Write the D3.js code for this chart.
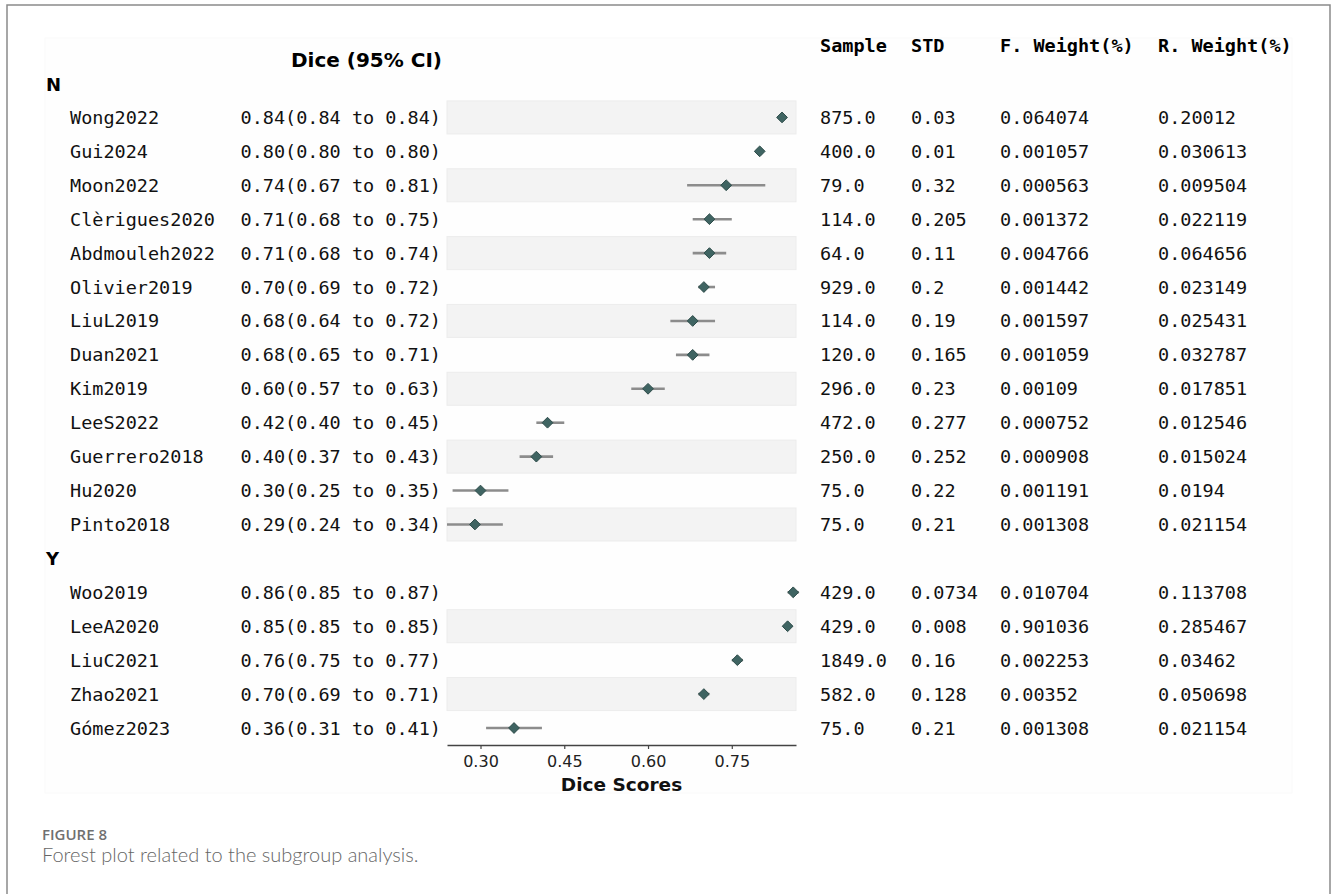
<!DOCTYPE html>
<html>
<head>
<meta charset="utf-8">
<script src="https://d3js.org/d3.v7.min.js"></script>
<style>
  body { margin: 0; background: #fff; }
  svg { display: block; }
</style>
</head>
<body>
<div id="container"></div>
<script>
// ---------------------------------------------------------------------
// Data
const groups = ["N", "Y"];
const studies = [
    "Wong2022", "Gui2024", "Moon2022", "Clèrigues2020", "Abdmouleh2022", "Olivier2019",
    "LiuL2019", "Duan2021", "Kim2019", "LeeS2022", "Guerrero2018", "Hu2020", "Pinto2018",
    "Woo2019", "LeeA2020", "LiuC2021", "Zhao2021", "Gómez2023"
];
const studyGroup = ["N", "N", "N", "N", "N", "N", "N", "N", "N", "N", "N", "N", "N",
    "Y", "Y", "Y", "Y", "Y"];
const dice   = [0.84, 0.80, 0.74, 0.71, 0.71, 0.70, 0.68, 0.68, 0.60, 0.42, 0.40, 0.30, 0.29,
    0.86, 0.85, 0.76, 0.70, 0.36];
const ciLow  = [0.84, 0.80, 0.67, 0.68, 0.68, 0.69, 0.64, 0.65, 0.57, 0.40, 0.37, 0.25, 0.24,
    0.85, 0.85, 0.75, 0.69, 0.31];
const ciHigh = [0.84, 0.80, 0.81, 0.75, 0.74, 0.72, 0.72, 0.71, 0.63, 0.45, 0.43, 0.35, 0.34,
    0.87, 0.85, 0.77, 0.71, 0.41];
const sampleSize = ["875.0", "400.0", "79.0", "114.0", "64.0", "929.0", "114.0", "120.0", "296.0",
    "472.0", "250.0", "75.0", "75.0", "429.0", "429.0", "1849.0", "582.0", "75.0"];
const stdValues = ["0.03", "0.01", "0.32", "0.205", "0.11", "0.2", "0.19", "0.165", "0.23",
    "0.277", "0.252", "0.22", "0.21", "0.0734", "0.008", "0.16", "0.128", "0.21"];
const fixedWeights = ["0.064074", "0.001057", "0.000563", "0.001372", "0.004766", "0.001442",
    "0.001597", "0.001059", "0.00109", "0.000752", "0.000908", "0.001191", "0.001308",
    "0.010704", "0.901036", "0.002253", "0.00352", "0.001308"];
const randomWeights = ["0.20012", "0.030613", "0.009504", "0.022119", "0.064656", "0.023149",
    "0.025431", "0.032787", "0.017851", "0.012546", "0.015024", "0.0194", "0.021154",
    "0.113708", "0.285467", "0.03462", "0.050698", "0.021154"];
const xTicks = [0.30, 0.45, 0.60, 0.75];

// ---------------------------------------------------------------------
// Layout
const width = 1331;
const height = 894;
const mono = "'DejaVu Sans Mono', 'Liberation Mono', monospace";
const sans = "'DejaVu Sans', Verdana, sans-serif";
const fontSize = 18.5;

// rows: group header followed by its studies
const rows = [];
groups.forEach(g => {
    rows.push({ type: "group", label: g });
    studies.forEach((s, i) => {
        if (studyGroup[i] === g) rows.push({ type: "study", i });
    });
});

const x = d3.scaleLinear()
    .domain([0.24, 0.865])
    .range([447, 796]);

const y = d3.scaleLinear()
    .domain([0, rows.length - 1])
    .range([83.5, 728]);

const svg = d3.select("#container").append("svg")
    .attr("width", width)
    .attr("height", height);

// page frame + faint figure box
svg.append("path")
    .attr("d", `M7,${height + 5}V5H1330V${height + 5}`)
    .attr("fill", "none")
    .attr("stroke", "#8a8a8a")
    .attr("stroke-width", 1.5);
svg.append("rect")
    .attr("x", 45).attr("y", 38)
    .attr("width", 1247).attr("height", 755)
    .attr("fill", "#fefefe")
    .attr("stroke", "#fafafa");

// column headers
const colX = { sample: 820, std: 911, fw: 1000, rw: 1158 };
svg.append("text")
    .attr("x", 442).attr("y", 67)
    .attr("text-anchor", "end")
    .attr("font-family", sans).attr("font-weight", "bold").attr("font-size", 20)
    .text("Dice (95% CI)");
[["Sample", colX.sample], ["STD", colX.std], ["F. Weight(%)", colX.fw], ["R. Weight(%)", colX.rw]]
    .forEach(([t, cx]) => {
        svg.append("text")
            .attr("x", cx).attr("y", 52)
            .attr("font-family", mono).attr("font-weight", "bold").attr("font-size", fontSize)
            .text(t);
    });

// alternating bands behind the plot area
const bandG = svg.append("g");
rows.forEach((r, k) => {
    if (r.type !== "study" || r.i % 2 !== 0) return;
    bandG.append("rect")
        .attr("x", x.range()[0])
        .attr("y", y(k) - 16.5)
        .attr("width", x.range()[1] - x.range()[0])
        .attr("height", 33)
        .attr("fill", "#f3f3f3")
        .attr("stroke", "#ececec")
        .attr("stroke-width", 1);
});

// text + marks per row
const fmt = d3.format(".2f");
const diamond = d3.symbol().type(d3.symbolDiamond2 || d3.symbolDiamond).size(74);

rows.forEach((r, k) => {
    const cy = y(k);
    if (r.type === "group") {
        svg.append("text")
            .attr("x", 46).attr("y", cy + 7)
            .attr("font-family", sans).attr("font-weight", "bold").attr("font-size", 18)
            .text(r.label);
        return;
    }
    const i = r.i;
    const g = svg.append("g")
        .attr("font-family", mono).attr("font-size", fontSize).attr("fill", "#111");
    g.append("text").attr("x", 70).attr("y", cy + 6.5).text(studies[i]);
    g.append("text").attr("x", 441).attr("y", cy + 6.5).attr("text-anchor", "end")
        .text(`${fmt(dice[i])}(${fmt(ciLow[i])} to ${fmt(ciHigh[i])})`);
    g.append("text").attr("x", colX.sample).attr("y", cy + 6.5).text(sampleSize[i]);
    g.append("text").attr("x", colX.std).attr("y", cy + 6.5).text(stdValues[i]);
    g.append("text").attr("x", colX.fw).attr("y", cy + 6.5).text(fixedWeights[i]);
    g.append("text").attr("x", colX.rw).attr("y", cy + 6.5).text(randomWeights[i]);

    // confidence interval
    svg.append("line")
        .attr("x1", x(ciLow[i])).attr("x2", x(ciHigh[i]))
        .attr("y1", cy).attr("y2", cy)
        .attr("stroke", "#8c8c8c")
        .attr("stroke-width", 2.6);

    // point estimate
    svg.append("path")
        .attr("d", diamond())
        .attr("transform", `translate(${x(dice[i])},${cy})`)
        .attr("fill", "#3f6462")
        .attr("stroke", "#2e4c4a")
        .attr("stroke-width", 1);
});

// x-axis
const axisY = 745;
const axis = svg.append("g")
    .attr("transform", `translate(0,${axisY})`)
    .call(d3.axisBottom(x)
        .tickValues(xTicks)
        .tickFormat(fmt)
        .tickSize(4)
        .tickSizeOuter(0)
        .tickPadding(7));
axis.select(".domain").attr("stroke", "#444").attr("stroke-width", 1.4);
axis.selectAll(".tick line").attr("stroke", "#444").attr("stroke-width", 1.2);
axis.selectAll(".tick text")
    .attr("font-family", sans).attr("font-size", 16).attr("fill", "#222");

svg.append("text")
    .attr("x", (x.range()[0] + x.range()[1]) / 2).attr("y", 791)
    .attr("text-anchor", "middle")
    .attr("font-family", sans).attr("font-weight", "bold").attr("font-size", 18.5)
    .attr("fill", "#111")
    .text("Dice Scores");

// caption
svg.append("text")
    .attr("x", 42).attr("y", 840)
    .attr("font-family", "'Open Sans', Lato, sans-serif").attr("font-weight", 600)
    .attr("font-size", 15).attr("fill", "#707070")
    .text("FIGURE 8");
svg.append("text")
    .attr("x", 42).attr("y", 862)
    .attr("font-family", "Lato, 'Open Sans', sans-serif").attr("font-weight", 300)
    .attr("font-size", 20).attr("fill", "#666")
    .text("Forest plot related to the subgroup analysis.");
</script>
</body>
</html>
